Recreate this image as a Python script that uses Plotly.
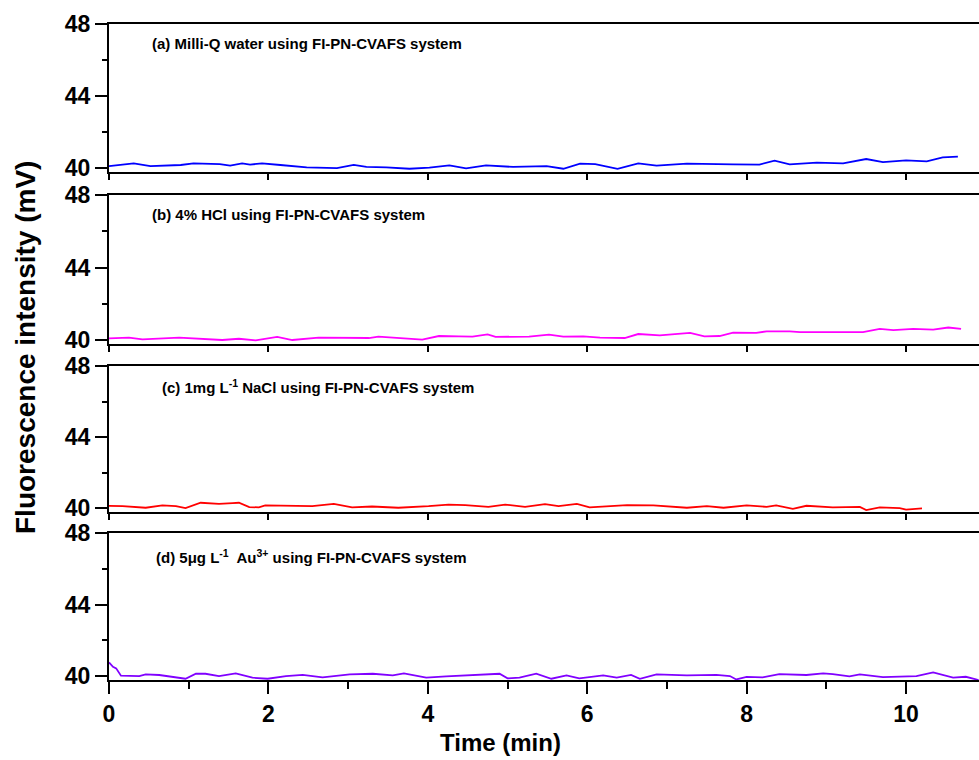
import plotly.graph_objects as go

# ---------------- data ----------------
t_a = [0, 0.31, 0.52, 0.9, 1.06, 1.39, 1.52, 1.67, 1.77, 1.92, 2.15, 2.48, 2.86, 3.07, 3.23, 3.48,
       3.77, 4.02, 4.27, 4.48, 4.73, 5.07, 5.49, 5.70, 5.91, 6.1, 6.38, 6.64, 6.87, 7.25, 7.83,
       8.16, 8.35, 8.54, 8.88, 9.21, 9.5, 9.71, 10.0, 10.26, 10.46, 10.65]
v_a = [40.11, 40.26, 40.11, 40.17, 40.26, 40.22, 40.13, 40.26, 40.19, 40.26, 40.17, 40.04, 40.00,
       40.17, 40.07, 40.04, 39.96, 40.02, 40.15, 39.98, 40.15, 40.06, 40.11, 39.96, 40.24, 40.22,
       39.96, 40.26, 40.13, 40.24, 40.20, 40.19, 40.41, 40.20, 40.30, 40.26, 40.50, 40.33, 40.43,
       40.37, 40.59, 40.63]

t_b = [0, 0.25, 0.42, 0.88, 1.42, 1.63, 1.84, 2.11, 2.3, 2.63, 3.26, 3.38, 3.93, 4.14, 4.39, 4.56,
       4.75, 4.85, 5.27, 5.52, 5.70, 5.95, 6.16, 6.47, 6.64, 6.91, 7.29, 7.47, 7.66, 7.83, 8.12,
       8.25, 8.54, 8.67, 9.04, 9.46, 9.67, 9.84, 10.09, 10.34, 10.53, 10.69]
v_b = [40.09, 40.13, 40.04, 40.13, 40.00, 40.07, 39.98, 40.17, 40.00, 40.13, 40.11, 40.19, 40.02,
       40.22, 40.20, 40.19, 40.31, 40.17, 40.19, 40.30, 40.19, 40.20, 40.13, 40.11, 40.33, 40.26,
       40.39, 40.20, 40.22, 40.41, 40.39, 40.48, 40.48, 40.44, 40.43, 40.44, 40.61, 40.54, 40.61,
       40.57, 40.69, 40.61]

t_c = [0, 0.17, 0.46, 0.67, 0.84, 0.96, 1.15, 1.38, 1.55, 1.63, 1.76, 1.88, 1.96, 2.34, 2.55, 2.82,
       3.05, 3.3, 3.63, 4.01, 4.26, 4.47, 4.76, 4.97, 5.22, 5.47, 5.64, 5.87, 6.03, 6.5, 6.83, 7.25,
       7.5, 7.71, 8.0, 8.25, 8.37, 8.58, 8.75, 9.08, 9.42, 9.5, 9.67, 9.92, 10.0, 10.2]
v_c = [40.13, 40.11, 40.02, 40.15, 40.11, 40.00, 40.30, 40.24, 40.28, 40.30, 40.06, 40.04, 40.15,
       40.13, 40.11, 40.24, 40.04, 40.09, 40.02, 40.11, 40.20, 40.17, 40.07, 40.20, 40.07, 40.22,
       40.11, 40.24, 40.04, 40.17, 40.15, 40.02, 40.11, 40.02, 40.15, 40.07, 40.15, 39.96, 40.13,
       40.04, 40.07, 39.89, 40.04, 40.00, 39.91, 39.98]

t_d = [0, 0.05, 0.09, 0.15, 0.38, 0.46, 0.63, 0.88, 0.96, 1.09, 1.21, 1.38, 1.59, 1.8, 1.99, 2.22,
       2.43, 2.68, 3.02, 3.31, 3.56, 3.7, 3.98, 4.23, 4.56, 4.9, 5.0, 5.15, 5.36, 5.55, 5.74, 5.9,
       6.2, 6.37, 6.55, 6.66, 6.87, 7.25, 7.62, 7.79, 7.87, 8.0, 8.2, 8.41, 8.75, 8.96, 9.08, 9.29,
       9.42, 9.71, 10.13, 10.34, 10.59, 10.75, 10.91]
v_d = [40.76, 40.52, 40.43, 40.02, 40.00, 40.09, 40.06, 39.87, 39.85, 40.13, 40.13, 40.00, 40.15,
       39.91, 39.85, 40.00, 40.07, 39.93, 40.09, 40.13, 40.04, 40.15, 39.91, 39.98, 40.07, 40.13,
       39.87, 39.91, 40.13, 39.85, 40.04, 39.87, 40.04, 39.91, 40.06, 39.85, 40.09, 40.04, 40.07,
       40.00, 39.81, 39.96, 39.93, 40.11, 40.06, 40.15, 40.11, 39.98, 40.09, 39.94, 40.00, 40.20,
       39.91, 39.96, 39.78]

labels = [
    "(a) Milli-Q water using FI-PN-CVAFS system",
    "(b) 4% HCl using FI-PN-CVAFS system",
    "(c) 1mg L<sup>-1</sup> NaCl using FI-PN-CVAFS system",
    "(d) 5\u03bcg L<sup>-1</sup>  Au<sup>3+</sup> using FI-PN-CVAFS system",
]
colors = ["#0000FF", "#FF00FF", "#FF0000", "#8000FF"]
y_ticks = [40, 44, 48]
x_ticks = [0, 2, 4, 6, 8, 10]

# ---------------- figure ----------------
W, H = 979, 760
ML, MR, MT, MB = 109, 0, 24, 80
PH = H - MT - MB
# panel pixel extents (top, bottom)
panels_px = [(24, 172), (195, 344), (366, 512), (533, 680)]
domains = [[(680 - b) / PH, (680 - t) / PH] for (t, b) in panels_px]

series = [(t_a, v_a), (t_b, v_b), (t_c, v_c), (t_d, v_d)]
FONT = "Liberation Sans, Arial, sans-serif"

fig = go.Figure()
for i, ((tt, vv), col) in enumerate(zip(series, colors)):
    n = "" if i == 0 else str(i + 1)
    fig.add_trace(go.Scatter(x=tt, y=vv, mode="lines", line=dict(color=col, width=1.8),
                             xaxis="x" + n, yaxis="y" + n, showlegend=False,
                             hoverinfo="skip"))

layout = dict(
    width=W, height=H,
    margin=dict(l=ML, r=MR, t=MT, b=MB, pad=0),
    plot_bgcolor="white", paper_bgcolor="white",
    font=dict(family=FONT, color="black"),
    showlegend=False,
)
for i in range(4):
    n = "" if i == 0 else str(i + 1)
    bottom = (i == 3)
    xa = dict(
        domain=[0, 1], anchor="y" + n, range=[0, 10.915],
        showline=True, linecolor="black", linewidth=2, mirror=True,
        showgrid=False, zeroline=False,
        ticks="outside", tickvals=x_ticks, tickwidth=2, tickcolor="black",
        ticklen=12 if bottom else 6,
        showticklabels=bottom,
        tickfont=dict(family=FONT, size=23, color="black", weight="bold"),
    )
    if bottom:
        xa["minor"] = dict(dtick=1, tick0=0, ticks="outside", ticklen=7, tickwidth=2,
                           tickcolor="black", showgrid=False)
    else:
        xa["matches"] = "x4"
    ya = dict(
        domain=domains[i], anchor="x" + n, range=[39.78, 48],
        showline=True, linecolor="black", linewidth=2, mirror=False,
        showgrid=False, zeroline=False,
        ticks="outside", tickvals=y_ticks, ticklen=12, tickwidth=2, tickcolor="black",
        tickfont=dict(family=FONT, size=23, color="black", weight="bold"),
        minor=dict(tickvals=[42, 46], ticks="outside", ticklen=5, tickwidth=2,
                   tickcolor="black", showgrid=False),
    )
    layout["xaxis" + n] = xa
    layout["yaxis" + n] = ya

fig.update_layout(**layout)

label_pos = [(0.52, 46.9), (0.52, 46.9), (0.64, 46.85), (0.56, 46.7)]
for i, (lab, (lx, ly)) in enumerate(zip(labels, label_pos)):
    n = "" if i == 0 else str(i + 1)
    fig.add_annotation(text="<b>" + lab + "</b>", x=lx, y=ly, xref="x" + n, yref="y" + n,
                       xanchor="left", yanchor="middle", showarrow=False,
                       font=dict(family=FONT, size=15, color="black"))

# axis titles
fig.add_annotation(text="<b>Time (min)</b>", x=(500 - ML) / (W - ML - MR), y=-(742 - 680) / PH,
                   xref="paper", yref="paper", xanchor="center", yanchor="middle",
                   showarrow=False, font=dict(family=FONT, size=24, color="black"))
fig.add_annotation(text="<b>Fluorescence intensity (mV)</b>", x=(25 - ML) / (W - ML - MR),
                   y=(680 - 348) / PH, xref="paper", yref="paper", xanchor="center",
                   yanchor="middle", textangle=-90, showarrow=False,
                   font=dict(family=FONT, size=28, color="black"))

fig.write_html("out.html", config={"displayModeBar": False},
               post_script="document.body.style.margin='0px';document.body.style.padding='0px';")
